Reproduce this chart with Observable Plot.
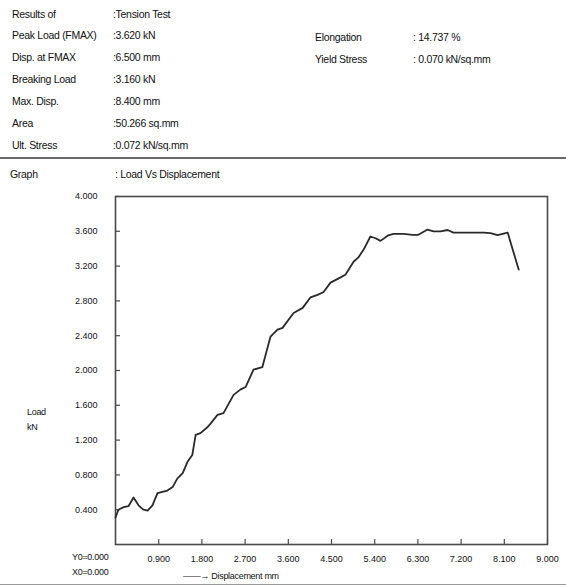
<!DOCTYPE html>
<html>
<head>
<meta charset="utf-8">
<script src="https://cdn.jsdelivr.net/npm/d3@7"></script>
<script src="https://cdn.jsdelivr.net/npm/@observablehq/plot@0.6"></script>
<style>
  html, body { margin: 0; padding: 0; background: #fff; }
  body { width: 566px; height: 587px; position: relative; overflow: hidden;
         font-family: "Liberation Sans", Arial, sans-serif; color: #111; }
  .t { position: absolute; z-index: 2; font-size: 10.5px; line-height: 12px; white-space: nowrap; letter-spacing: -0.3px; }
  .small { font-size: 9px; letter-spacing: -0.3px; }
  .rule { position: absolute; left: 0; width: 566px; background: #6a6a6a; }
  #chart { position: absolute; left: 0; top: 186px; z-index: 1; }
</style>
</head>
<body>
<div id="header"></div>
<div class="rule" style="top:157px;height:2px;"></div>
<div class="rule" style="top:584px;height:1px;background:#999;"></div>
<div id="chart"></div>
<script>
// Test report fields (left and right columns)
const leftLabels = ["Results of", "Peak Load (FMAX)", "Disp. at FMAX", "Breaking Load", "Max. Disp.", "Area", "Ult. Stress"];
const leftValues = [":Tension Test", ":3.620 kN", ":6.500 mm", ":3.160 kN", ":8.400 mm", ":50.266 sq.mm", ":0.072 kN/sq.mm"];
const rightLabels = ["Elongation", "Yield Stress"];
const rightValues = [": 14.737 %", ": 0.070 kN/sq.mm"];

// Load vs displacement readings
const disp = [0, 0.06, 0.17, 0.27, 0.375, 0.48, 0.58, 0.67, 0.77, 0.875, 1.08, 1.19, 1.29, 1.40, 1.50, 1.60,
  1.67, 1.77, 1.92, 1.98, 2.125, 2.25, 2.46, 2.60, 2.71, 2.875, 3.06, 3.23, 3.375, 3.48, 3.71, 3.90,
  4.06, 4.21, 4.33, 4.48, 4.69, 4.79, 4.96, 5.06, 5.17, 5.31, 5.42, 5.52, 5.67, 5.79, 6.00, 6.19,
  6.31, 6.50, 6.625, 6.77, 6.92, 7.04, 7.25, 7.46, 7.67, 7.81, 7.96, 8.17, 8.40];
const load = [0.31, 0.40, 0.43, 0.44, 0.54, 0.45, 0.40, 0.39, 0.45, 0.59, 0.62, 0.66, 0.76, 0.82, 0.95, 1.03,
  1.26, 1.28, 1.35, 1.39, 1.49, 1.51, 1.72, 1.78, 1.81, 2.01, 2.04, 2.39, 2.47, 2.49, 2.66, 2.72,
  2.84, 2.87, 2.90, 3.01, 3.07, 3.10, 3.25, 3.30, 3.39, 3.54, 3.52, 3.49, 3.55, 3.57, 3.57, 3.56,
  3.56, 3.620, 3.60, 3.60, 3.615, 3.585, 3.585, 3.585, 3.585, 3.58, 3.555, 3.585, 3.160];

const xTicks = [0.9, 1.8, 2.7, 3.6, 4.5, 5.4, 6.3, 7.2, 8.1, 9.0];
const yTicks = [0.4, 0.8, 1.2, 1.6, 2.0, 2.4, 2.8, 3.2, 3.6, 4.0];

// Header text block
const header = document.getElementById("header");
function addText(txt, left, top, cls) {
  const d = document.createElement("div");
  d.className = "t" + (cls ? " " + cls : "");
  d.style.left = left + "px";
  d.style.top = top + "px";
  d.textContent = txt;
  header.appendChild(d);
}
const rowTops = [8, 29, 51, 73, 95, 117, 139];
leftLabels.forEach((s, i) => addText(s, 12, rowTops[i]));
leftValues.forEach((s, i) => addText(s, 113, rowTops[i]));
rightLabels.forEach((s, i) => addText(s, 315, [31, 53][i]));
rightValues.forEach((s, i) => addText(s, 413, [31, 53][i]));
addText("Graph", 10, 168);
addText(": Load Vs Displacement", 115, 168);
addText("Load", 27, 406, "small");
addText("kN", 27, 421, "small");
addText("Y0=0.000", 72, 551, "small");
addText("X0=0.000", 72, 566, "small");
addText("\u2014\u2014\u2192 Displacement  mm", 183, 570, "small");

const rows = disp.map((d, i) => ({disp: d, load: load[i]}));
const W = 566, H = 400, mL = 115, mR = 19, mT = 10, mB = 42;
const innerW = W - mL - mR, innerH = H - mT - mB;

const chart = Plot.plot({
  width: W,
  height: H,
  marginLeft: mL,
  marginRight: mR,
  marginTop: mT,
  marginBottom: mB,
  style: {fontFamily: "Liberation Sans, Arial, sans-serif", fontSize: "9px", color: "#111", background: "transparent"},
  x: {domain: [0, 9]},
  y: {domain: [0, 4]},
  marks: [
    Plot.frame({stroke: "#4a4a4a", strokeWidth: 1.6}),
    // inward ticks along the bottom and left edges
    Plot.tickX(xTicks, {x: d => d, insetTop: innerH - 5, stroke: "#4a4a4a", strokeWidth: 1.2}),
    Plot.tickY(yTicks, {y: d => d, insetRight: innerW - 5, stroke: "#4a4a4a", strokeWidth: 1.2}),
    Plot.axisX(xTicks, {tickSize: 0, tickPadding: 11, tickFormat: d3.format(".3f"), label: null}),
    Plot.axisY(yTicks, {tickSize: 0, tickPadding: 18, tickFormat: d3.format(".3f"), label: null}),
    Plot.line(rows, {x: "disp", y: "load", stroke: "#2a2a2a", strokeWidth: 1.8, strokeLinejoin: "round"})
  ]
});
document.getElementById("chart").appendChild(chart);
</script>
</body>
</html>
